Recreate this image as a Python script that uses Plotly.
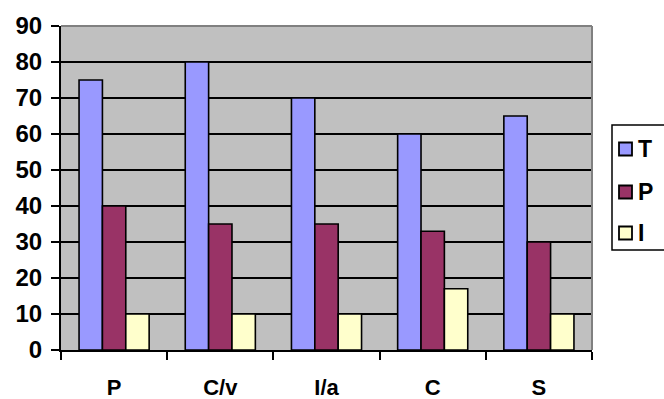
import plotly.graph_objects as go

categories = ["P", "C/v", "I/a", "C", "S"]
series_names = ["T", "P", "I"]
t_values = [75, 80, 70, 60, 65]
p_values = [40, 35, 35, 33, 30]
i_values = [10, 10, 10, 17, 10]
colors = ["#9999FF", "#993366", "#FFFFCC"]
y_ticks = [0, 10, 20, 30, 40, 50, 60, 70, 80, 90]

font_family = "Liberation Sans, Arial, sans-serif"

W, H = 664, 399
ML, MR, MT, MB = 61, 72, 26, 49
PW, PH = W - ML - MR, H - MT - MB


def px_x(px):
    return (px - ML) / PW


def px_y(py):
    return (H - MB - py) / PH


fig = go.Figure()
for name, vals, col in zip(series_names, [t_values, p_values, i_values], colors):
    fig.add_trace(go.Bar(
        x=categories, y=vals, name=name, showlegend=False,
        marker=dict(color=col, line=dict(color="black", width=1.6)),
    ))

shapes = [
    dict(type="line", xref="paper", yref="paper", x0=0, x1=1, y0=1, y1=1,
         line=dict(color="#808080", width=2), layer="above"),
    dict(type="line", xref="paper", yref="paper", x0=1, x1=1, y0=0, y1=1,
         line=dict(color="#808080", width=2), layer="above"),
    # legend box
    dict(type="rect", xref="paper", yref="paper",
         x0=px_x(612), x1=px_x(672), y0=px_y(250), y1=px_y(125),
         line=dict(color="black", width=1.5), fillcolor="white", layer="above"),
]
annotations = []
legend_centers = [149, 192, 233]
for name, col, cy in zip(series_names, colors, legend_centers):
    shapes.append(dict(type="rect", xref="paper", yref="paper",
                       x0=px_x(619), x1=px_x(632), y0=px_y(cy + 6.5), y1=px_y(cy - 6.5),
                       line=dict(color="black", width=1.8), fillcolor=col, layer="above"))
    annotations.append(dict(xref="paper", yref="paper", x=px_x(636), y=px_y(cy),
                            text=name, showarrow=False, xanchor="left", yanchor="middle",
                            font=dict(family=font_family, size=23, color="black", weight="bold")))

fig.update_layout(
    width=W, height=H,
    margin=dict(l=ML, r=MR, t=MT, b=MB),
    paper_bgcolor="white",
    plot_bgcolor="#C0C0C0",
    barmode="group",
    bargap=0.34,
    bargroupgap=0,
    showlegend=False,
    font=dict(family=font_family, size=24, color="black", weight="bold"),
    xaxis=dict(
        showline=True, linecolor="black", linewidth=2,
        ticks="outside", tickson="boundaries", ticklen=8, tickwidth=2, tickcolor="black",
        showgrid=False, ticklabelstandoff=17, automargin=False,
        tickfont=dict(family=font_family, size=22, color="black", weight="bold"),
    ),
    yaxis=dict(
        range=[0, 90], tickvals=y_ticks,
        showline=True, linecolor="black", linewidth=2,
        ticks="outside", ticklen=8, tickwidth=2, tickcolor="black",
        showgrid=True, gridcolor="black", gridwidth=2,
        zeroline=False, ticklabelstandoff=4, automargin=False,
        tickfont=dict(family=font_family, size=24, color="black", weight="bold"),
    ),
    shapes=shapes,
    annotations=annotations,
)

fig.write_html(
    "out.html",
    config={"displayModeBar": False},
    post_script="document.body.style.margin='0';document.body.style.overflow='hidden';",
)
